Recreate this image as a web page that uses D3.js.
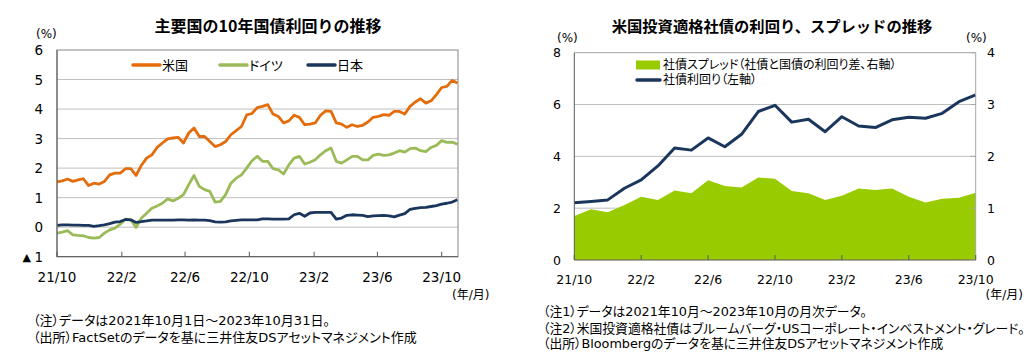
<!DOCTYPE html>
<html><head><meta charset="utf-8">
<script src="https://cdn.jsdelivr.net/npm/d3@7"></script>
<style>
body{margin:0;background:#fff}
text{font-family:"DejaVu Sans","Noto Sans CJK JP",sans-serif;fill:#000}
.num{font-family:"DejaVu Sans",sans-serif}
.jp{font-feature-settings:"palt"}
.ttl{font-family:"Noto Sans CJK JP",sans-serif}
</style>
</head><body>
<svg id="c" width="1035" height="355"></svg>
<script>
// ---------- left chart data (sampled readings) ----------
const sampleDates = ["2021-10-01","2021-10-11","2021-10-21","2021-10-31","2021-11-10","2021-11-20","2021-11-30","2021-12-10","2021-12-20","2021-12-30",
"2022-01-09","2022-01-19","2022-01-29","2022-02-08","2022-02-18","2022-02-28","2022-03-10","2022-03-20","2022-03-30","2022-04-09",
"2022-04-19","2022-04-29","2022-05-09","2022-05-19","2022-05-29","2022-06-08","2022-06-18","2022-06-28","2022-07-08","2022-07-18",
"2022-07-28","2022-08-07","2022-08-17","2022-08-27","2022-09-06","2022-09-16","2022-09-26","2022-10-06","2022-10-16","2022-10-26",
"2022-11-05","2022-11-15","2022-11-25","2022-12-05","2022-12-15","2022-12-25","2023-01-04","2023-01-14","2023-01-24","2023-02-03",
"2023-02-13","2023-02-23","2023-03-05","2023-03-15","2023-03-25","2023-04-04","2023-04-14","2023-04-24","2023-05-04","2023-05-14",
"2023-05-24","2023-06-03","2023-06-13","2023-06-23","2023-07-03","2023-07-13","2023-07-23","2023-08-02","2023-08-12","2023-08-22",
"2023-09-01","2023-09-11","2023-09-21","2023-10-01","2023-10-11","2023-10-21","2023-10-31"];
const usYield = [1.53,1.57,1.63,1.55,1.60,1.64,1.41,1.49,1.46,1.55,
1.77,1.83,1.83,1.98,1.98,1.75,2.09,2.34,2.45,2.70,
2.85,2.99,3.02,3.04,2.85,3.19,3.36,3.07,3.07,2.90,
2.73,2.79,2.90,3.13,3.27,3.41,3.80,3.85,4.05,4.09,
4.15,3.83,3.75,3.53,3.60,3.79,3.72,3.47,3.49,3.53,
3.79,3.94,3.92,3.53,3.49,3.38,3.47,3.41,3.45,3.56,
3.72,3.75,3.81,3.79,3.92,3.92,3.83,4.09,4.24,4.35,
4.20,4.28,4.49,4.73,4.77,4.97,4.88];
const deYield = [-0.20,-0.17,-0.12,-0.26,-0.28,-0.29,-0.35,-0.37,-0.35,-0.20,
-0.09,-0.03,0.10,0.27,0.25,-0.01,0.30,0.47,0.64,0.72,
0.81,0.96,0.89,0.98,1.10,1.44,1.75,1.38,1.27,1.21,
0.85,0.87,1.10,1.49,1.66,1.77,2.00,2.25,2.40,2.23,
2.23,1.98,1.94,1.80,2.11,2.34,2.40,2.14,2.20,2.28,
2.45,2.59,2.68,2.23,2.17,2.28,2.40,2.40,2.28,2.28,
2.43,2.47,2.43,2.45,2.51,2.59,2.54,2.66,2.68,2.59,
2.56,2.70,2.77,2.93,2.87,2.88,2.81];
const jpYield = [0.06,0.08,0.08,0.07,0.07,0.06,0.06,0.03,0.05,0.08,
0.12,0.17,0.19,0.26,0.25,0.16,0.19,0.21,0.24,0.24,
0.24,0.24,0.24,0.25,0.25,0.24,0.25,0.24,0.24,0.22,
0.18,0.17,0.18,0.21,0.23,0.25,0.25,0.25,0.25,0.28,
0.28,0.27,0.27,0.27,0.28,0.42,0.47,0.37,0.48,0.50,
0.50,0.50,0.50,0.27,0.31,0.40,0.42,0.41,0.40,0.36,
0.38,0.39,0.40,0.38,0.35,0.41,0.46,0.60,0.64,0.66,
0.67,0.70,0.73,0.78,0.81,0.85,0.93];
const leftSeriesNames = ["米国","ドイツ","日本"];
const leftTickDates = ["2021-10-01","2022-02-01","2022-06-01","2022-10-01","2023-02-01","2023-06-01","2023-10-01"];
const tickLabels = ["21/10","22/2","22/6","22/10","23/2","23/6","23/10"];
const leftYTicks = [-1,0,1,2,3,4,5,6];
const leftYLabels = ["▲ 1","0","1","2","3","4","5","6"];

// ---------- right chart data (monthly) ----------
const months = ["2021-10","2021-11","2021-12","2022-01","2022-02","2022-03","2022-04","2022-05","2022-06","2022-07","2022-08","2022-09",
"2022-10","2022-11","2022-12","2023-01","2023-02","2023-03","2023-04","2023-05","2023-06","2023-07","2023-08","2023-09","2023-10"];
const corpYield = [2.21,2.26,2.32,2.77,3.09,3.63,4.32,4.24,4.71,4.37,4.85,5.73,5.97,5.32,5.43,4.95,5.53,5.17,5.11,5.41,5.51,5.47,5.66,6.11,6.37];
const corpSpread = [0.85,0.98,0.92,1.06,1.22,1.16,1.34,1.29,1.54,1.43,1.40,1.59,1.57,1.33,1.29,1.16,1.24,1.38,1.35,1.38,1.22,1.11,1.18,1.20,1.30];
const rightTickIdx = [0,4,8,12,16,20,24];
const leftAxisTicks = [0,2,4,6,8];
const rightAxisTicks = [0,1,2,3,4];

const C_US="#E46C0A", C_DE="#9BBB59", C_JP="#1B365D", C_SP="#99CC00", C_CY="#1B365D";
const svg = d3.select("#c");
svg.append("rect").attr("width",1035).attr("height",355).attr("fill","#fff");
const parse = d3.timeParse("%Y-%m-%d");

// ================= LEFT CHART =================
const L = {x0:57,x1:458,y0:50,y1:256.7};
const xL = d3.scaleTime().domain([new Date(2021,9,1), new Date(2023,10,1)]).range([L.x0,L.x1]);
const yL = d3.scaleLinear().domain([-1,6]).range([L.y1,L.y0]);
const gL = svg.append("g");
gL.append("text").attr("x",268).attr("y",25).attr("text-anchor","middle").attr("dominant-baseline","central")
  .attr("font-size",16).attr("font-weight","bold").attr("class","ttl").text("主要国の10年国債利回りの推移");
gL.append("text").attr("x",36).attr("y",34).attr("dominant-baseline","central").attr("font-size",12).text("(%)");
// grid
gL.selectAll("line.g").data(leftYTicks.filter(v=>v>-1&&v<6)).join("line")
  .attr("x1",L.x0).attr("x2",L.x1).attr("y1",d=>yL(d)).attr("y2",d=>yL(d)).attr("stroke","#BFBFBF").attr("stroke-width",1);
// y labels
gL.selectAll("text.yl").data(leftYTicks).join("text").attr("class","num")
  .attr("x",43).attr("y",d=>yL(d)).attr("text-anchor","end").attr("dominant-baseline","central").attr("font-size",13.5)
  .each(function(d,i){
    const t=d3.select(this); const lab=leftYLabels[i];
    if(lab.startsWith("▲")){ t.append("tspan").attr("font-size",11).text("▲ "); t.append("tspan").text(lab.slice(2)); }
    else t.text(lab);
  });
// series
const mk = (vals)=>sampleDates.map((d,i)=>({date:parse(d),v:vals[i]}));
const line = d3.line().x(d=>xL(d.date)).y(d=>yL(d.v));
svg.append("clipPath").attr("id","clipL").append("rect").attr("x",L.x0).attr("y",L.y0).attr("width",L.x1-L.x0).attr("height",L.y1-L.y0);
const gS = gL.append("g").attr("clip-path","url(#clipL)");
[[usYield,C_US],[deYield,C_DE],[jpYield,C_JP]].forEach(([v,c])=>{
  gS.append("path").datum(mk(v)).attr("d",line).attr("fill","none").attr("stroke",c).attr("stroke-width",2.8).attr("stroke-linejoin","round");
});
// border
gL.append("rect").attr("x",L.x0).attr("y",L.y0).attr("width",L.x1-L.x0).attr("height",L.y1-L.y0)
  .attr("fill","none").attr("stroke","#868686").attr("stroke-width",1);
gL.append("line").attr("x1",L.x0).attr("x2",L.x1).attr("y1",L.y1).attr("y2",L.y1).attr("stroke","#595959");
gL.append("line").attr("x1",L.x0).attr("x2",L.x0).attr("y1",L.y0).attr("y2",L.y1).attr("stroke","#595959");
// x ticks
const ltd = leftTickDates.map(parse);
gL.selectAll("line.xt").data(ltd).join("line").attr("x1",d=>xL(d)).attr("x2",d=>xL(d)).attr("y1",L.y1).attr("y2",L.y1-5).attr("stroke","#595959");
gL.selectAll("text.xl").data(ltd).join("text").attr("class","num").attr("x",d=>xL(d)).attr("y",277)
  .attr("text-anchor","middle").attr("dominant-baseline","central").attr("font-size",13.5).text((d,i)=>tickLabels[i]);
gL.append("text").attr("x",452).attr("y",295).attr("dominant-baseline","central").attr("font-size",12).attr("class","jp").text("(年/月)");
// legend
const legL = [[133,C_US],[220,C_DE],[308,C_JP]];
legL.forEach(([x,c],i)=>{
  gL.append("line").attr("x1",x).attr("x2",x+27).attr("y1",65).attr("y2",65).attr("stroke",c).attr("stroke-width",3.5).attr("stroke-linecap","round");
  gL.append("text").attr("x",x+29).attr("y",65).attr("dominant-baseline","central").attr("font-size",13).attr("class","jp").text(leftSeriesNames[i]);
});
// notes
const notesL = ["（注）データは2021年10月1日～2023年10月31日。","（出所）FactSetのデータを基に三井住友DSアセットマネジメント作成"];
gL.selectAll("text.nt").data(notesL).join("text").attr("class","jp").attr("x",33).attr("y",(d,i)=>[320,337][i])
  .attr("dominant-baseline","central").attr("font-size",13).text(d=>d);

// ================= RIGHT CHART =================
const R = {x0:574.3,x1:975.7,y0:52.7,y1:260};
const xR = d3.scalePoint().domain(months).range([R.x0,R.x1]);
const yRL = d3.scaleLinear().domain([0,8]).range([R.y1,R.y0]);
const yRR = d3.scaleLinear().domain([0,4]).range([R.y1,R.y0]);
const gR = svg.append("g");
gR.append("text").attr("x",772).attr("y",25).attr("text-anchor","middle").attr("dominant-baseline","central")
  .attr("font-size",15.3).attr("font-weight","bold").attr("class","ttl").text("米国投資適格社債の利回り、スプレッドの推移");
gR.append("text").attr("x",557).attr("y",38).attr("dominant-baseline","central").attr("font-size",12).text("(%)");
gR.append("text").attr("x",966).attr("y",38).attr("dominant-baseline","central").attr("font-size",12).text("(%)");
gR.selectAll("line.g").data(leftAxisTicks.filter(v=>v>0&&v<8)).join("line")
  .attr("x1",R.x0).attr("x2",R.x1).attr("y1",d=>yRL(d)).attr("y2",d=>yRL(d)).attr("stroke","#BFBFBF");
const spData = months.map((m,i)=>({m,v:corpSpread[i]}));
const cyData = months.map((m,i)=>({m,v:corpYield[i]}));
gR.append("path").datum(spData).attr("d",d3.area().x(d=>xR(d.m)).y0(yRR(0)).y1(d=>yRR(d.v))).attr("fill",C_SP);
gR.append("path").datum(cyData).attr("d",d3.line().x(d=>xR(d.m)).y(d=>yRL(d.v))).attr("fill","none")
  .attr("stroke",C_CY).attr("stroke-width",3).attr("stroke-linejoin","round");
// border
gR.append("line").attr("x1",R.x0).attr("x2",R.x1).attr("y1",R.y0).attr("y2",R.y0).attr("stroke","#A6A6A6");
gR.append("line").attr("x1",R.x1).attr("x2",R.x1).attr("y1",R.y0).attr("y2",R.y1).attr("stroke","#A6A6A6");
gR.append("line").attr("x1",R.x0).attr("x2",R.x0).attr("y1",R.y0).attr("y2",R.y1).attr("stroke","#595959");
gR.append("line").attr("x1",R.x0).attr("x2",R.x1).attr("y1",R.y1).attr("y2",R.y1).attr("stroke","#595959");
// right axis ticks
gR.selectAll("line.rt").data(rightAxisTicks).join("line").attr("x1",R.x1-5).attr("x2",R.x1).attr("y1",d=>yRR(d)).attr("y2",d=>yRR(d)).attr("stroke","#A6A6A6");
// x ticks
gR.selectAll("line.xt").data(rightTickIdx).join("line").attr("x1",d=>xR(months[d])).attr("x2",d=>xR(months[d]))
  .attr("y1",R.y1).attr("y2",R.y1-5).attr("stroke","#595959");
gR.selectAll("text.xl").data(rightTickIdx).join("text").attr("class","num").attr("x",d=>xR(months[d])).attr("y",279)
  .attr("text-anchor","middle").attr("dominant-baseline","central").attr("font-size",12.5).text((d,i)=>tickLabels[i]);
gR.selectAll("text.yl").data(leftAxisTicks).join("text").attr("class","num").attr("x",561).attr("y",d=>yRL(d))
  .attr("text-anchor","end").attr("dominant-baseline","central").attr("font-size",12.5).text(d=>d);
gR.selectAll("text.yr").data(rightAxisTicks).join("text").attr("class","num").attr("x",987).attr("y",d=>yRR(d))
  .attr("text-anchor","start").attr("dominant-baseline","central").attr("font-size",12.5).text(d=>d);
gR.append("text").attr("x",1023).attr("y",295).attr("text-anchor","end").attr("dominant-baseline","central").attr("font-size",12).attr("class","jp").text("(年/月)");
// legend
gR.append("rect").attr("x",636).attr("y",60.5).attr("width",24).attr("height",9).attr("fill",C_SP);
gR.append("text").attr("x",663).attr("y",65).attr("dominant-baseline","central").attr("font-size",12).attr("class","jp").text("社債スプレッド（社債と国債の利回り差、右軸）");
gR.append("line").attr("x1",637).attr("x2",660).attr("y1",80).attr("y2",80).attr("stroke",C_CY).attr("stroke-width",3.5).attr("stroke-linecap","round");
gR.append("text").attr("x",663).attr("y",80).attr("dominant-baseline","central").attr("font-size",12).attr("class","jp").text("社債利回り（左軸）");
// notes
const notesR = ["（注1）データは2021年10月～2023年10月の月次データ。","（注2）米国投資適格社債はブルームバーグ・USコーポレート・インベストメント・グレード。","（出所）Bloombergのデータを基に三井住友DSアセットマネジメント作成"];
gR.selectAll("text.nt").data(notesR).join("text").attr("class","jp").attr("x",543).attr("y",(d,i)=>[311.5,328,343.5][i])
  .attr("dominant-baseline","central").attr("font-size",12.8).text(d=>d);
</script>
</body></html>
